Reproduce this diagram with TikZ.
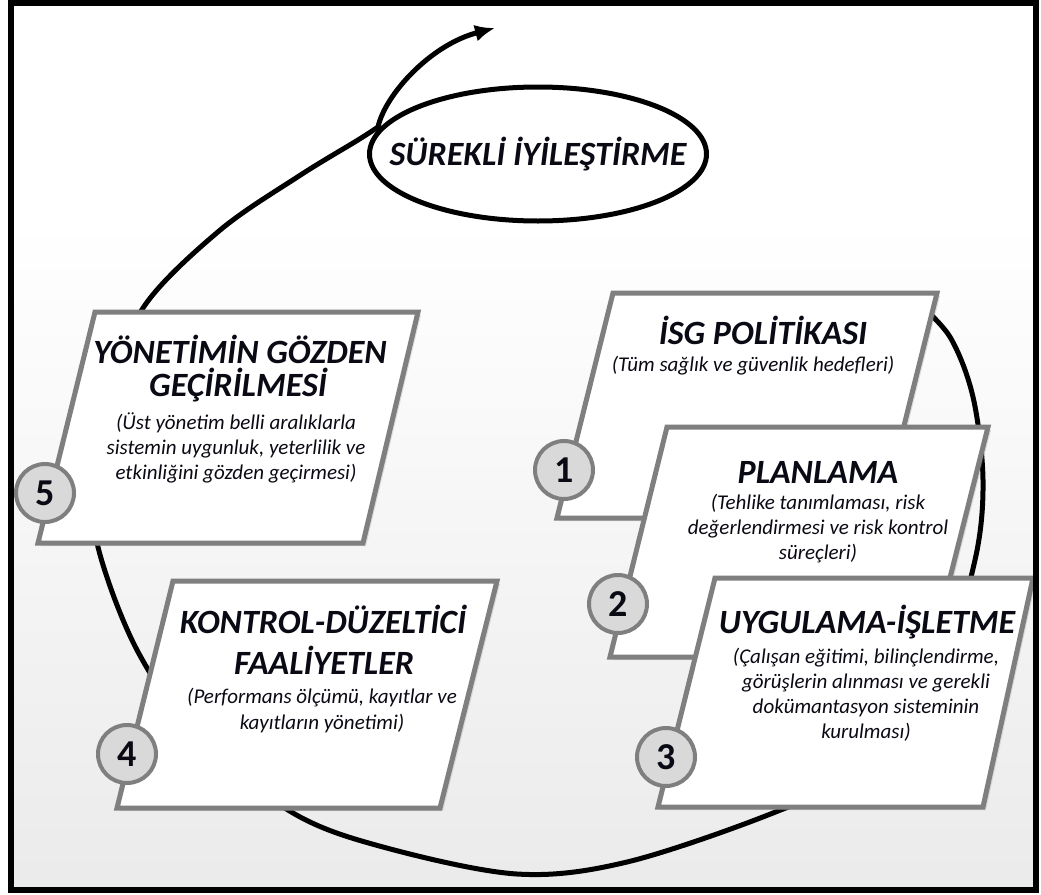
\documentclass[tikz,border=0pt]{standalone}
\usepackage{fontspec}
\setmainfont{Carlito}
\usetikzlibrary{shapes.geometric, arrows.meta, shadows}
\definecolor{boxgray}{HTML}{7F7F7F}
\definecolor{numfill}{HTML}{D9D9D9}
\definecolor{txt}{HTML}{0A0A14}
\begin{document}
\begin{tikzpicture}[x=1pt, y=-1pt,
  pbox/.style={draw=boxgray, line width=5pt, fill=white, line join=miter,
    drop shadow={opacity=0.22, shadow xshift=3pt, shadow yshift=-3pt}},
  numc/.style={circle, draw=boxgray, line width=4pt, fill=numfill, minimum size=58pt,
    inner sep=0pt, text=txt, font=\bfseries\fontsize{38}{38}\selectfont},
  ttl/.style={anchor=base, inner sep=0pt, text=txt, font=\bfseries\itshape\fontsize{34}{34}\selectfont},
  sub/.style={anchor=base, inner sep=0pt, text=txt, font=\itshape\fontsize{21}{25}\selectfont},
  curve/.style={line width=5pt, line cap=round, black},
]
\useasboundingbox (0,0) rectangle (1041,894);
\fill[white] (0,0) rectangle (1041,894);
\shade[top color=white, bottom color=black!8] (11,220) rectangle (1036,890);

% spiral
\draw[curve] plot[smooth, tension=0.55] coordinates {
  (915,300) (950,337) (973,397) (983,480) (975,560) (940,670) (870,765)
  (773,813) (627,862) (517,874) (383,847) (293,813) (200,740) (137,650)
  (98,547) (94,475) (108,400) (143,308) (219,231) (299,176) (358,140) (378,127)};

% ellipse
\node[ellipse, draw, line width=5pt, fill=white, minimum width=337pt, minimum height=134pt,
  inner sep=0pt] (ell) at (538,154) {};
\node[ttl] (elltext) at (538,165) {SÜREKLİ İYİLEŞTİRME};
\coordinate (j) at (378,127);
\coordinate (tip) at (495,28);
\draw[curve, -{Latex[length=20pt,width=17pt]}] (j) .. controls (385,95) and (430,45) .. (tip);

% box 5
\draw[pbox] (95,312) -- (418,312) -- (363,543) -- (38,543) -- cycle;
\node[numc] (n5) at (45,493) {5};
% box 4
\draw[pbox] (173,581) -- (497,581) -- (440,808) -- (117,808) -- cycle;
\node[numc] (n4) at (127,754) {4};
% box 1
\draw[pbox] (613,293) -- (937,293) -- (881,518) -- (557,518) -- cycle;
\node[numc] (n1) at (564,470) {1};
% box 2
\draw[pbox] (667,427) -- (988,427) -- (930,657) -- (610,657) -- cycle;
\node[numc] (n2) at (618,604) {2};
% box 3
\draw[pbox] (715,578) -- (1033,578) -- (983,807) -- (658,807) -- cycle;
\node[numc] (n3) at (666,757) {3};

% texts box 5
\node[ttl] (b5t1) at (240,363) {YÖNETİMİN GÖZDEN};
\node[ttl] (b5t2) at (238,396) {GEÇİRİLMESİ};
\node[sub] (b5s1) at (236,429) {(Üst yönetim belli aralıklarla};
\node[sub] (b5s2) at (236,454) {sistemin uygunluk, yeterlilik ve};
\node[sub] (b5s3) at (236,479) {etkinliğini gözden geçirmesi)};
% box 1
\node[ttl] (b1t1) at (763,344) {İSG POLİTİKASI};
\node[sub] (b1s1) at (753,371) {(Tüm sağlık ve güvenlik hedefleri)};
% box 2
\node[ttl] (b2t1) at (818,483) {PLANLAMA};
\node[sub] (b2s1) at (818,509) {(Tehlike tanımlaması, risk};
\node[sub] (b2s2) at (818,534) {değerlendirmesi ve risk kontrol};
\node[sub] (b2s3) at (818,559) {süreçleri)};
% box 3
\node[ttl] (b3t1) at (867,633) {UYGULAMA-İŞLETME};
\node[sub] (b3s1) at (866,663) {(Çalışan eğitimi, bilinçlendirme,};
\node[sub] (b3s2) at (866,688) {görüşlerin alınması ve gerekli};
\node[sub] (b3s3) at (866,713) {dokümantasyon sisteminin};
\node[sub] (b3s4) at (866,738) {kurulması)};
% box 4
\node[ttl] (b4t1) at (323,633) {KONTROL-DÜZELTİCİ};
\node[ttl] (b4t2) at (324,674) {FAALİYETLER};
\node[sub] (b4s1) at (322,703) {(Performans ölçümü, kayıtlar ve};
\node[sub] (b4s2) at (322,729) {kayıtların yönetimi)};

% frame
\draw[line width=5.5pt] (10.8,3) rectangle (1036,890);
\end{tikzpicture}
\end{document}
